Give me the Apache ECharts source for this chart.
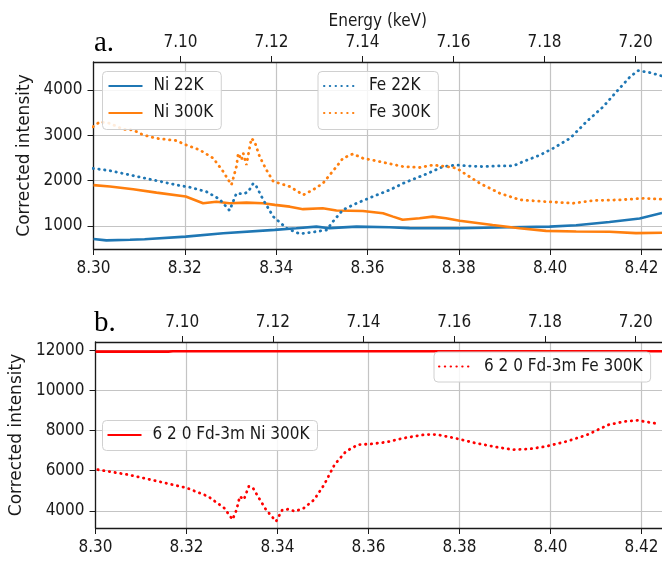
<!DOCTYPE html>
<html lang="en">
<head>
<meta charset="UTF-8">
<title>Corrected intensity</title>
<script src="https://cdn.jsdelivr.net/npm/echarts@6/dist/echarts.min.js"></script>
<style>html,body{margin:0;padding:0;background:#fff;}</style>
</head>
<body>
<div id="chart" style="width:662px;height:563px;"></div>
<script>
// panel a - Ni edge, bottom axis (keV)
var ni22E = [8.300, 8.3028, 8.3080, 8.3112, 8.3116, 8.3120, 8.3202, 8.3284, 8.3397, 8.3444, 8.3488, 8.3517, 8.3576, 8.3648, 8.3692, 8.3802, 8.3911, 8.3999, 8.4057, 8.4130, 8.4196, 8.4245];
var ni22I = [710, 680, 695, 706, 675, 712, 764, 839, 912, 949, 985, 950, 985, 970, 950, 949, 970, 985, 1015, 1088, 1162, 1287];

var ni300E = [8.300, 8.3036, 8.3087, 8.3138, 8.3202, 8.3240, 8.3269, 8.3298, 8.3335, 8.3371, 8.3397, 8.3430, 8.3459, 8.3502, 8.3532, 8.3590, 8.3634, 8.3656, 8.3677, 8.3714, 8.3743, 8.3772, 8.3802, 8.3874, 8.3933, 8.3991, 8.4057, 8.4130, 8.4188, 8.4245];
var ni300I = [1900, 1870, 1810, 1735, 1650, 1500, 1535, 1500, 1515, 1500, 1465, 1425, 1370, 1390, 1340, 1330, 1280, 1205, 1135, 1170, 1205, 1170, 1115, 1020, 950, 890, 875, 870, 840, 850];

// panel a - Fe edge, top axis (keV)
var fe22E = [7.0808, 7.0845, 7.0889, 7.0947, 7.0991, 7.1020, 7.1057, 7.1086, 7.1108, 7.1123, 7.1138, 7.1149, 7.1160, 7.1167, 7.1182, 7.1204, 7.1233, 7.1262, 7.1299, 7.1321, 7.1335, 7.1357, 7.1387, 7.1423, 7.1460, 7.1489, 7.1541, 7.1577, 7.1607, 7.1629, 7.1665, 7.1702, 7.1731, 7.1753, 7.1790, 7.1819, 7.1856, 7.1892, 7.1929, 7.1958, 7.1988, 7.2006, 7.2032, 7.2058];
var fe22I = [2270, 2220, 2125, 2000, 1905, 1855, 1755, 1590, 1340, 1720, 1705, 1755, 1940, 1870, 1575, 1205, 950, 825, 875, 910, 1095, 1355, 1500, 1650, 1795, 1940, 2150, 2310, 2345, 2325, 2310, 2325, 2325, 2420, 2565, 2715, 2935, 3300, 3635, 3965, 4295, 4430, 4385, 4310];

var fe300E = [7.0808, 7.0823, 7.0845, 7.0874, 7.0896, 7.0918, 7.0947, 7.0991, 7.1012, 7.1042, 7.1072, 7.1094, 7.1112, 7.1123, 7.1127, 7.1134, 7.1138, 7.1145, 7.1151, 7.1156, 7.1163, 7.1174, 7.1189, 7.1204, 7.1218, 7.1240, 7.1270, 7.1291, 7.1313, 7.1343, 7.1357, 7.1379, 7.1401, 7.1438, 7.1489, 7.1526, 7.1555, 7.1585, 7.1607, 7.1629, 7.1658, 7.1702, 7.1746, 7.1805, 7.1863, 7.1907, 7.1966, 7.2017, 7.2058];
var fe300I = [3190, 3300, 3265, 3135, 3120, 3010, 2935, 2885, 2790, 2680, 2495, 2200, 1905, 2310, 2605, 2455, 2605, 2345, 2680, 2935, 2860, 2530, 2235, 1980, 1940, 1870, 1685, 1795, 1940, 2310, 2495, 2590, 2495, 2420, 2310, 2290, 2345, 2310, 2275, 2125, 1940, 1720, 1575, 1535, 1500, 1560, 1575, 1610, 1590];

// panel b - 6 2 0 Fd-3m
var bNiE = [8.300, 8.3160, 8.3170, 8.4245];
var bNiI = [11940, 11940, 11960, 11960];

var bFeE = [7.0814, 7.0881, 7.0946, 7.1010, 7.1057, 7.1093, 7.1111, 7.1120, 7.1127, 7.1136, 7.1147, 7.1156, 7.1169, 7.1185, 7.1207, 7.1221, 7.1235, 7.1249, 7.1268, 7.1291, 7.1313, 7.1336, 7.1361, 7.1388, 7.1416, 7.1452, 7.1489, 7.1535, 7.1562, 7.1600, 7.1646, 7.1692, 7.1729, 7.1765, 7.1802, 7.1848, 7.1894, 7.1940, 7.1977, 7.2004, 7.2049];
var bFeI = [6050, 5800, 5470, 5140, 4720, 4130, 3560, 4050, 4720, 4555, 5220, 5140, 4640, 4050, 3470, 4050, 4080, 3970, 4130, 4550, 5300, 6300, 6960, 7300, 7330, 7430, 7630, 7800, 7800, 7630, 7380, 7180, 7050, 7080, 7210, 7460, 7800, 8290, 8460, 8510, 8340];

// tick labels
var niTicks = [8.30, 8.32, 8.34, 8.36, 8.38, 8.40, 8.42];
var feTicks = [7.10, 7.12, 7.14, 7.16, 7.18, 7.20];
var yTicksA = [1000, 2000, 3000, 4000];
var yTicksB = [4000, 6000, 8000, 10000, 12000];

function pairs(xs, ys) {
    return xs.map(function (x, i) { return [x, ys[i]]; });
}

var FONT = "'DejaVu Sans Condensed', 'DejaVu Sans', sans-serif";
var INK = '#1a1a1a';
var GRIDC = '#c4c4c4';

function xAx(grid, pos, min, max, ticks, margin, extra) {
    var ax = {
        type: 'value', gridIndex: grid, position: pos, min: min, max: max,
        axisLine: {show: true, onZero: false, lineStyle: {color: INK, width: 1.3}},
        axisTick: {show: true, length: 6, customValues: ticks, lineStyle: {color: INK}},
        axisLabel: {customValues: ticks, margin: margin, color: INK, fontSize: 17, fontFamily: FONT,
            formatter: function (v) { return v.toFixed(2); }},
        splitLine: {show: pos === 'bottom', lineStyle: {color: GRIDC, width: 1.2}}
    };
    for (var k in extra) ax[k] = extra[k];
    return ax;
}

function yAx(grid, min, max, ticks, gap) {
    return {
        type: 'value', gridIndex: grid, min: min, max: max,
        name: 'Corrected intensity', nameLocation: 'middle', nameGap: gap,
        nameTextStyle: {fontSize: 17, color: INK, fontFamily: "'DejaVu Sans', sans-serif"},
        axisLine: {show: true, lineStyle: {color: INK, width: 1.3}},
        axisTick: {show: true, length: 6, customValues: ticks, lineStyle: {color: INK}},
        axisLabel: {customValues: ticks, margin: 11, color: INK, fontSize: 17, fontFamily: FONT,
            formatter: function (v) { return String(v); }},
        splitLine: {show: true, lineStyle: {color: GRIDC, width: 1.2}}
    };
}

function legendBox(names, left, top, pad) {
    return {
        data: names, orient: 'vertical', left: left, top: top, padding: pad,
        itemGap: 10, itemWidth: 34, itemHeight: 14, selectedMode: false,
        itemStyle: {opacity: 0},
        backgroundColor: 'rgba(255,255,255,0.85)', borderColor: '#d0d0d0', borderWidth: 1, borderRadius: 4,
        textStyle: {fontSize: 17, color: INK, fontFamily: FONT, padding: [0, 0, 0, 6]}
    };
}

function line(name, xi, yi, data, color, dotted) {
    return {
        name: name, type: 'line', xAxisIndex: xi, yAxisIndex: yi, data: data,
        symbol: 'none', color: color, animation: false,
        lineStyle: dotted
            ? {color: color, width: 2.8, type: [0.4, 5.4], cap: 'round'}
            : {color: color, width: 2.6, type: 'solid'}
    };
}

var chart = echarts.init(document.getElementById('chart'));

var option = {
    animation: false,
    backgroundColor: '#fff',
    title: [
        {text: 'a.', left: 89, top: 24, textStyle: {fontFamily: "'Liberation Serif', serif", fontSize: 29, fontWeight: 'normal', color: '#000'}},
        {text: 'b.', left: 89, top: 304, textStyle: {fontFamily: "'Liberation Serif', serif", fontSize: 29, fontWeight: 'normal', color: '#000'}}
    ],
    grid: [
        {left: 93.5, top: 62, right: 0, height: 187},
        {left: 93.5, top: 342, right: 0, height: 186}
    ],
    xAxis: [
        xAx(0, 'bottom', 8.30, 8.4245, niTicks, 11, {}),
        xAx(0, 'top', 7.0809, 7.2058, feTicks, 11, {
            name: 'Energy (keV)', nameLocation: 'middle', nameGap: 32,
            nameTextStyle: {fontSize: 17, color: INK, fontFamily: FONT}
        }),
        xAx(1, 'bottom', 8.30, 8.4245, niTicks, 11, {}),
        xAx(1, 'top', 7.0809, 7.2058, feTicks, 11, {})
    ],
    yAxis: [
        yAx(0, 490, 4620, yTicksA, 55),
        yAx(1, 3140, 12420, yTicksB, 70)
    ],
    legend: [
        legendBox(['Ni 22K', 'Ni 300K'], 102.5, 71.5, [6, 8, 8, 5]),
        legendBox(['Fe 22K', 'Fe 300K'], 318, 71.5, [6, 8, 8, 5]),
        legendBox(['6 2 0 Fd-3m Fe 300K'], 434, 352, [6, 8, 7, 4]),
        legendBox(['6 2 0 Fd-3m Ni 300K'], 102.5, 420.5, [6, 8, 7, 4])
    ],
    series: [
        line('Ni 22K', 0, 0, pairs(ni22E, ni22I), '#1f77b4', false),
        line('Ni 300K', 0, 0, pairs(ni300E, ni300I), '#ff7f0e', false),
        line('Fe 22K', 1, 0, pairs(fe22E, fe22I), '#1f77b4', true),
        line('Fe 300K', 1, 0, pairs(fe300E, fe300I), '#ff7f0e', true),
        line('6 2 0 Fd-3m Ni 300K', 2, 1, pairs(bNiE, bNiI), '#ff0000', false),
        line('6 2 0 Fd-3m Fe 300K', 3, 1, pairs(bFeE, bFeI), '#ff0000', true)
    ]
};

chart.setOption(option);
</script>
</body>
</html>
